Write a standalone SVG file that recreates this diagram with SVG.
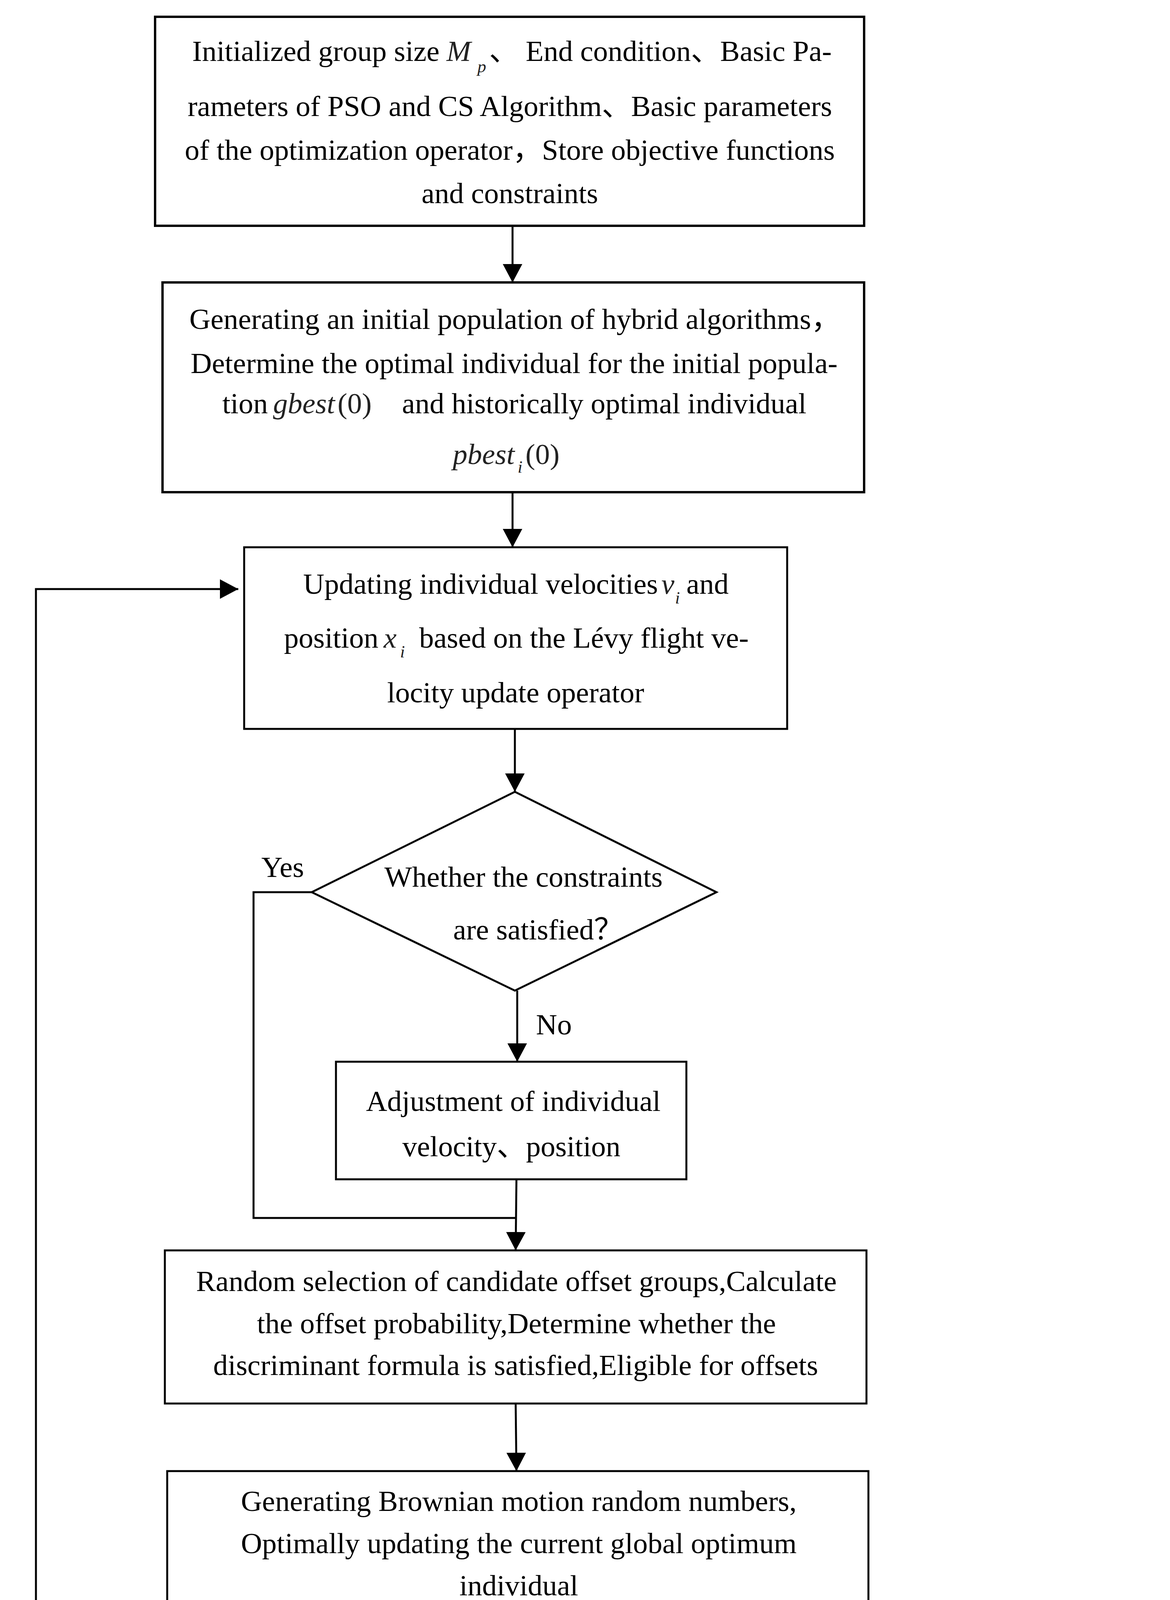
<svg xmlns="http://www.w3.org/2000/svg" width="2995" height="5213" viewBox="0 0 2995 5213">
<style>
.t{font-family:"Liberation Serif","Noto Sans CJK SC",serif;font-size:75px;fill:#000}
.c{text-anchor:middle}
.m{font-style:italic;fill:#222}
.mu{fill:#222}
.sub{font-style:italic;font-size:45px;fill:#222}
.box{fill:#fff;stroke:#000;stroke-width:5}
.bx{fill:#fff;stroke:#000;stroke-width:6}
.ln{fill:none;stroke:#000;stroke-width:5}
</style>
<defs>
<marker id="ah" markerUnits="userSpaceOnUse" markerWidth="48" markerHeight="50" refX="47" refY="25" orient="auto">
<path d="M0,0 L47,25 L0,50 Z" fill="#000"/>
</marker>
</defs>
<rect width="2995" height="5213" fill="#fff"/>
<g id="connectors">
<line class="ln" x1="1312" y1="578" x2="1312" y2="723" marker-end="url(#ah)"/>
<line class="ln" x1="1312" y1="1260" x2="1312" y2="1401" marker-end="url(#ah)"/>
<line class="ln" x1="1318" y1="1866" x2="1318" y2="2027" marker-end="url(#ah)"/>
<line class="ln" x1="1324" y1="2536" x2="1324" y2="2718" marker-end="url(#ah)"/>
<line class="ln" x1="1322" y1="3019" x2="1320" y2="3201" marker-end="url(#ah)"/>
<polyline class="ln" points="798,2284 649,2284 649,3118 1320,3118"/>
<line class="ln" x1="1320" y1="3593" x2="1322" y2="3766" marker-end="url(#ah)"/>
<line class="ln" x1="1328" y1="4122" x2="1328" y2="4283" marker-end="url(#ah)"/>
<line class="ln" x1="1330" y1="4600" x2="1330" y2="4688" marker-end="url(#ah)"/>
<polyline class="ln" points="818,4932 92,4932 92,1508 610,1508" marker-end="url(#ah)"/>
<line class="ln" x1="1845" y1="4938" x2="2201" y2="4930" marker-end="url(#ah)"/>
<text class="t" x="669" y="2245">Yes</text>
<text class="t" x="1372" y="2648">No</text>
<text class="t" x="458" y="4859">No</text>
<text class="t" x="1929" y="4886">Yes</text>
</g>
<g id="n1">
<rect class="bx" x="397" y="43" width="1815" height="535"/>
<text class="t" y="156"><tspan x="492">Initialized group size</tspan><tspan class="m" x="1143">M</tspan><tspan class="sub" x="1222" y="185">p</tspan><tspan x="1252" y="156">、 End condition、Basic Pa-</tspan></text>
<text class="t c" x="1305" y="297">rameters of PSO and CS Algorithm、Basic parameters</text>
<text class="t c" x="1305" y="409">of the optimization operator，Store objective functions</text>
<text class="t c" x="1305" y="520">and constraints</text>
</g>
<g id="n2">
<rect class="bx" x="416" y="723" width="1796" height="537"/>
<text class="t c" x="1318" y="842">Generating an initial population of hybrid algorithms，</text>
<text class="t c" x="1316" y="955">Determine the optimal individual for the initial popula-</text>
<text class="t" y="1058"><tspan x="569">tion</tspan><tspan class="m" x="699">gbest</tspan><tspan class="mu" x="864">(0)</tspan><tspan x="1029">and historically optimal individual</tspan></text>
<text class="t" y="1188"><tspan class="m" x="1159">pbest</tspan><tspan class="sub" x="1325" y="1210">i</tspan><tspan class="mu" x="1345" y="1188">(0)</tspan></text>
</g>
<g id="n3">
<rect class="box" x="625" y="1401" width="1390" height="465"/>
<text class="t" y="1520"><tspan x="776">Updating individual velocities</tspan><tspan class="m" x="1693">v</tspan><tspan class="sub" x="1728" y="1545">i</tspan><tspan x="1757" y="1520">and</tspan></text>
<text class="t" y="1658"><tspan x="727">position</tspan><tspan class="m" x="982">x</tspan><tspan class="sub" x="1024" y="1683">i</tspan><tspan x="1073" y="1658">based on the Lévy flight ve-</tspan></text>
<text class="t c" x="1320" y="1798">locity update operator</text>
</g>
<g id="n4">
<polygon class="box" points="1318,2027 1834,2284 1318,2536 798,2284"/>
<text class="t" x="984" y="2270">Whether the constraints</text>
<text class="t" x="1160" y="2405">are satisfied？</text>
</g>
<g id="n5">
<rect class="box" x="860" y="2718" width="897" height="301"/>
<text class="t c" x="1314" y="2844">Adjustment of individual</text>
<text class="t" x="1030" y="2960">velocity、position</text>
</g>
<g id="n6">
<rect class="box" x="422" y="3201" width="1796" height="392"/>
<text class="t c" x="1322" y="3305">Random selection of candidate offset groups,Calculate</text>
<text class="t c" x="1322" y="3413">the offset probability,Determine whether the</text>
<text class="t c" x="1320" y="3520">discriminant formula is satisfied,Eligible for offsets</text>
</g>
<g id="n7">
<rect class="box" x="428" y="3766" width="1795" height="356"/>
<text class="t c" x="1328" y="3868">Generating Brownian motion random numbers,</text>
<text class="t c" x="1328" y="3976">Optimally updating the current global optimum</text>
<text class="t c" x="1328" y="4084">individual</text>
</g>
<g id="n8">
<rect class="box" x="428" y="4283" width="1795" height="317"/>
<text class="t c" x="1328" y="4407">Calculating adaptation values,Updating the global</text>
<text class="t c" x="1328" y="4515">optimal individual and the historical optimal individual</text>
</g>
<g id="n9">
<polygon class="box" points="1330,4688 1845,4936 1330,5177 818,4932"/>
<text class="t" x="1066" y="4898">Whether to end the</text>
<text class="t" x="1194" y="5035">constraint？</text>
</g>
<g id="n10">
<rect class="box" x="2201" y="4821" width="750" height="296"/>
<text class="t" y="4944"><tspan x="2267">Output</tspan><tspan x="2541">the</tspan><tspan x="2700">global</tspan></text>
<text class="t" x="2267" y="5052">optimal solution</text>
</g>
</svg>
